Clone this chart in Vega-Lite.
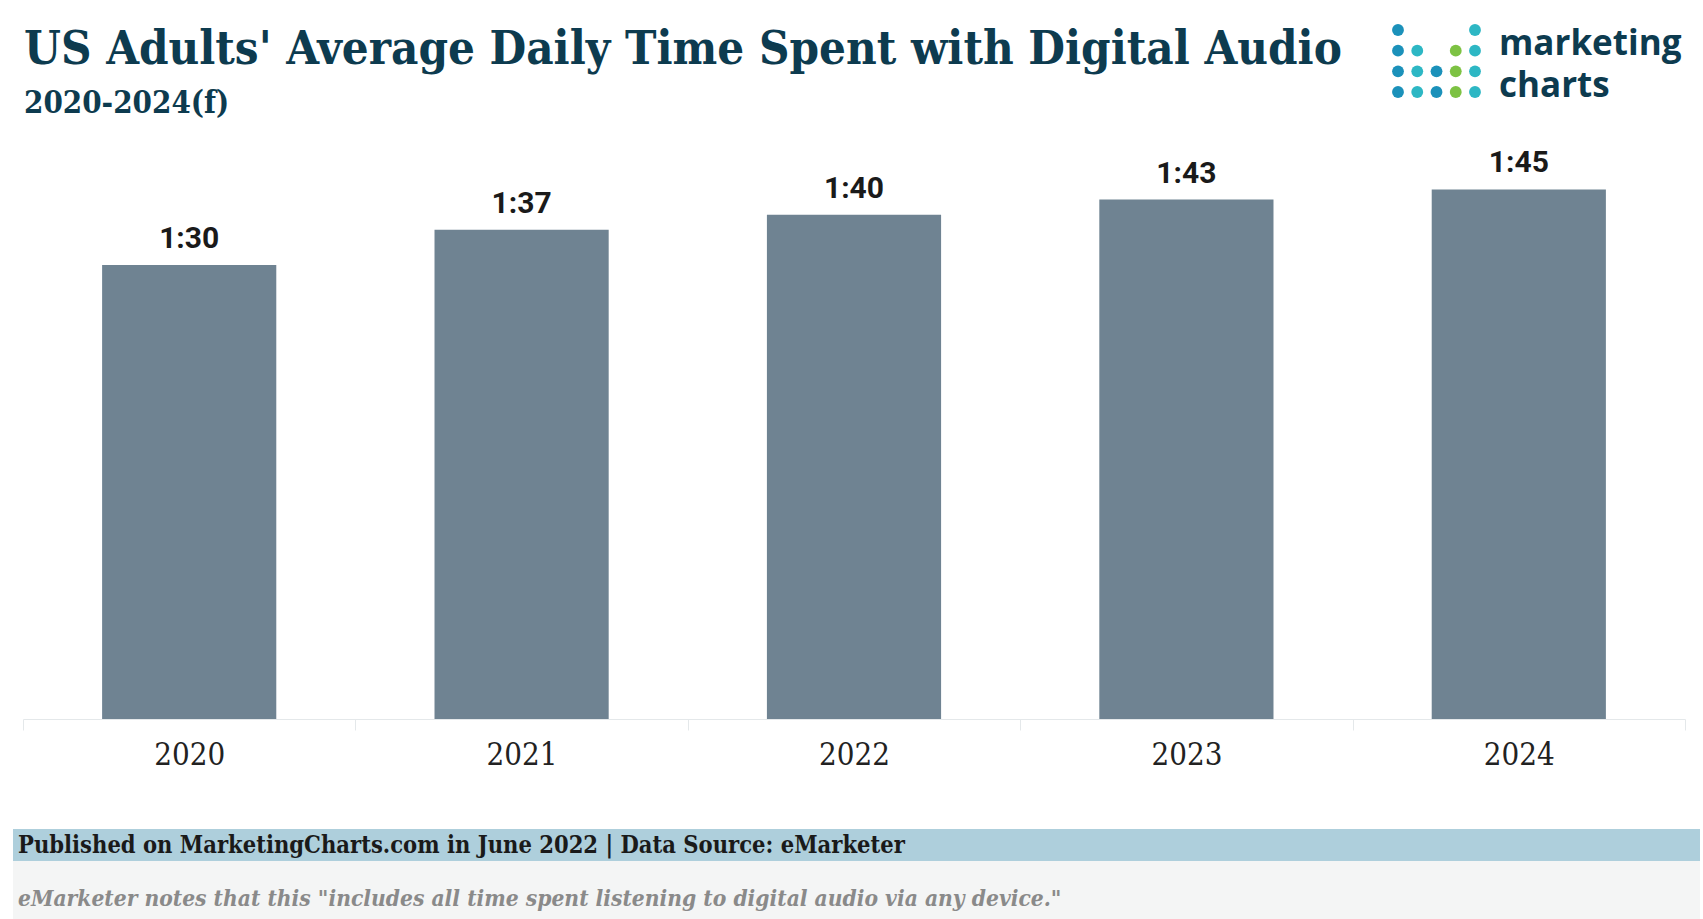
{
  "$schema": "https://vega.github.io/schema/vega-lite/v6.json",
  "background": "white",
  "padding": {"left": 13, "top": 24, "right": 3, "bottom": 0},
  "config": {"view": {"stroke": null}},
  "title": {
    "text": "US Adults' Average Daily Time Spent with Digital Audio",
    "subtitle": "2020-2024(f)",
    "anchor": "start",
    "frame": "bounds",
    "dx": 11,
    "offset": -96,
    "font": "DejaVu Serif Condensed, DejaVu Serif",
    "fontSize": 47,
    "fontWeight": "bold",
    "color": "#0d3b4f",
    "subtitleFont": "DejaVu Serif Condensed, DejaVu Serif",
    "subtitleFontSize": 31,
    "subtitleFontWeight": "bold",
    "subtitleColor": "#0d3b4f",
    "subtitlePadding": 15
  },
  "bounds": "flush",
  "spacing": 110,
  "vconcat": [
    {
      "width": 1687,
      "height": 580,
      "layer": [
        {
          "data": {"values": [
            {"year": "2020", "minutes": 90, "label": "1:30"},
            {"year": "2021", "minutes": 97, "label": "1:37"},
            {"year": "2022", "minutes": 100, "label": "1:40"},
            {"year": "2023", "minutes": 103, "label": "1:43"},
            {"year": "2024", "minutes": 105, "label": "1:45"}
          ]},
          "encoding": {
            "x": {
              "field": "year", "type": "ordinal",
              "scale": {"range": [10, 1672], "paddingInner": 0, "paddingOuter": 0},
              "axis": {
                "title": null, "labelAngle": 0,
                "labelFont": "DejaVu Serif Condensed, DejaVu Serif",
                "labelFontSize": 31, "labelColor": "#222222",
                "labelPadding": 10,
                "tickBand": "extent", "tickSize": 11,
                "tickColor": "#e4e8ea", "domainColor": "#e4e8ea",
                "grid": false
              }
            },
            "y": {
              "field": "minutes", "type": "quantitative",
              "scale": {"domain": [0, 115], "nice": false},
              "axis": null
            }
          },
          "layer": [
            {"mark": {"type": "bar", "color": "#6f8392", "width": {"band": 0.524}}},
            {
              "mark": {"type": "text", "font": "Roboto", "fontWeight": "bold", "fontSize": 30, "color": "#1a1a1a", "baseline": "alphabetic", "dy": -17},
              "encoding": {"text": {"field": "label"}}
            }
          ]
        },
        {
          "data": {"values": [
            {"c": 1, "r": 1, "tone": "blue"},
            {"c": 5, "r": 1, "tone": "teal"},
            {"c": 1, "r": 2, "tone": "blue"},
            {"c": 2, "r": 2, "tone": "teal"},
            {"c": 4, "r": 2, "tone": "green"},
            {"c": 5, "r": 2, "tone": "teal"},
            {"c": 1, "r": 3, "tone": "blue"},
            {"c": 2, "r": 3, "tone": "teal"},
            {"c": 3, "r": 3, "tone": "blue"},
            {"c": 4, "r": 3, "tone": "green"},
            {"c": 5, "r": 3, "tone": "teal"},
            {"c": 1, "r": 4, "tone": "blue"},
            {"c": 2, "r": 4, "tone": "teal"},
            {"c": 3, "r": 4, "tone": "blue"},
            {"c": 4, "r": 4, "tone": "green"},
            {"c": 5, "r": 4, "tone": "teal"}
          ]},
          "mark": {"type": "circle", "size": 140, "opacity": 1, "clip": false},
          "encoding": {
            "x": {"field": "c", "type": "quantitative", "scale": {"domain": [1, 5], "range": [1385, 1462], "nice": false, "zero": false}, "axis": null},
            "y": {"field": "r", "type": "quantitative", "scale": {"domain": [1, 4], "range": [-109, -47], "nice": false, "zero": false}, "axis": null},
            "color": {"field": "tone", "type": "nominal", "scale": {"domain": ["blue", "teal", "green"], "range": ["#1b91ba", "#2db7c4", "#7dc243"]}, "legend": null}
          }
        },
        {
          "data": {"values": [{"c": 5, "r": 2, "logo": "marketing"}]},
          "mark": {"type": "text", "align": "left", "baseline": "alphabetic", "dx": 24, "dy": 4, "font": "Open Sans", "fontWeight": "bold", "fontSize": 35, "color": "#0d3b4f", "clip": false},
          "encoding": {
            "x": {"field": "c", "type": "quantitative", "scale": {"domain": [1, 5], "range": [1385, 1462], "nice": false, "zero": false}, "axis": null},
            "y": {"field": "r", "type": "quantitative", "scale": {"domain": [1, 4], "range": [-109, -47], "nice": false, "zero": false}, "axis": null},
            "text": {"field": "logo"}
          }
        },
        {
          "data": {"values": [{"c": 5, "r": 4, "logo": "charts"}]},
          "mark": {"type": "text", "align": "left", "baseline": "alphabetic", "dx": 24, "dy": 5, "font": "Open Sans", "fontWeight": "bold", "fontSize": 35, "color": "#0d3b4f", "clip": false},
          "encoding": {
            "x": {"field": "c", "type": "quantitative", "scale": {"domain": [1, 5], "range": [1385, 1462], "nice": false, "zero": false}, "axis": null},
            "y": {"field": "r", "type": "quantitative", "scale": {"domain": [1, 4], "range": [-109, -47], "nice": false, "zero": false}, "axis": null},
            "text": {"field": "logo"}
          }
        }
      ],
      "resolve": {"scale": {"x": "independent", "y": "independent", "color": "independent"}}
    },
    {
      "spacing": 0,
      "bounds": "flush",
      "vconcat": [
        {
          "width": 1687,
          "height": 32,
          "view": {"fill": "#aecfdc", "stroke": null},
          "data": {"values": [{"pos": 0, "note": "Published on MarketingCharts.com in June 2022 | Data Source: eMarketer"}]},
          "mark": {"type": "text", "align": "left", "baseline": "middle", "dx": 5, "dy": 1, "font": "DejaVu Serif Condensed, DejaVu Serif", "fontWeight": "bold", "fontSize": 23.5, "color": "#1a1a1a"},
          "encoding": {
            "x": {"field": "pos", "type": "quantitative", "scale": {"domain": [0, 1]}, "axis": null},
            "text": {"field": "note"}
          }
        },
        {
          "width": 1687,
          "height": 58,
          "view": {"fill": "#f4f5f5", "stroke": null},
          "data": {"values": [{"pos": 0, "note": "eMarketer notes that this \"includes all time spent listening to digital audio via any device.\""}]},
          "mark": {"type": "text", "align": "left", "baseline": "middle", "dx": 5, "dy": 9, "font": "DejaVu Serif Condensed, DejaVu Serif", "fontStyle": "italic", "fontWeight": "bold", "fontSize": 22.6, "color": "#8a8a8a"},
          "encoding": {
            "x": {"field": "pos", "type": "quantitative", "scale": {"domain": [0, 1]}, "axis": null},
            "text": {"field": "note"}
          }
        }
      ]
    }
  ]
}
